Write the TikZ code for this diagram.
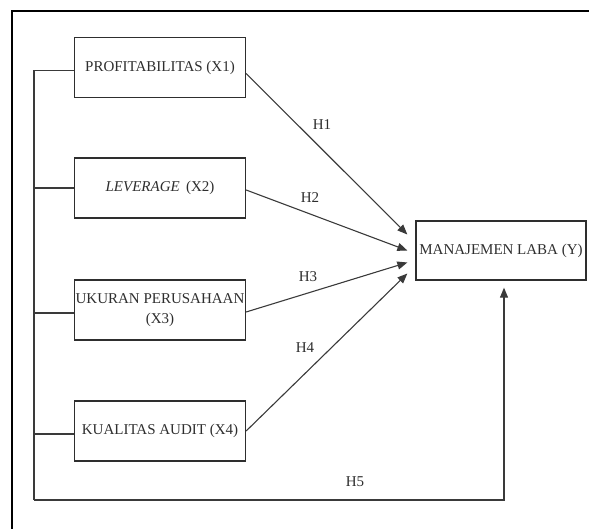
\documentclass[tikz,border=0pt]{standalone}
\usepackage{fontspec}
\setmainfont{Liberation Serif}
\usetikzlibrary{
   arrows.meta,
   calc
}
\definecolor{inkgray}{HTML}{2E2E2E}
\definecolor{linegray}{HTML}{3A3A3A}

\begin{document}
\begin{tikzpicture}[
  x=1pt, y=-1pt,
  every node/.style={font=\fontsize{15}{20}\selectfont, text=inkgray},
  varbox/.style={draw=inkgray, line width=1.3pt, minimum width=171pt,
    minimum height=60pt, inner sep=0pt, align=center},
  link/.style={draw=linegray, line width=1.1pt},
  effect/.style={link, -{Triangle[length=10pt,width=8pt]}},
]
\useasboundingbox (0,0) rectangle (589,529);

% page frame
\draw[line width=1.3pt] (589,11) -- (12,11) -- (12,529);

% variables
\node[varbox] (x1) at (160,67.5) {PROFITABILITAS (X1)};
\node[varbox] (x2) at (160,188) {\textit{LEVERAGE} \,(X2)};
\node[varbox] (x3) at (160,310) {UKURAN PERUSAHAAN\\(X3)};
\node[varbox] (x4) at (160,431) {KUALITAS AUDIT (X4)};
\node[varbox, minimum width=170pt, minimum height=59pt] (y) at (501,250.5) {MANAJEMEN LABA (Y)};

% arrow ends in front of y
\coordinate (t1) at ([xshift=-8pt,yshift=16pt]y.west);
\coordinate (t2) at ([xshift=-8pt,yshift=0pt]y.west);
\coordinate (t3) at ([xshift=-8pt,yshift=-12pt]y.west);
\coordinate (t4) at ([xshift=-8pt,yshift=-23pt]y.west);

% partial effects
\draw[effect] ([yshift=-6pt]x1.east) -- (t1);
\draw[effect] ([yshift=-2pt]x2.east) -- (t2);
\draw[effect] ([yshift=-2pt]x3.east) -- (t3);
\draw[effect] (x4.east) -- (t4);

\node (h1) at (322,125) {H1};
\node (h2) at (310,198) {H2};
\node (h3) at (308,277) {H3};
\node (h4) at (305,348) {H4};

% simultaneous effect
\coordinate (corner) at (34,500);
\draw[link] ([yshift=-3pt]x1.west) -| (corner);
\draw[link] (x2.west) -- (x2.west -| corner);
\draw[link] ([yshift=-3pt]x3.west) -- ([yshift=-3pt]x3.west -| corner);
\draw[link] ([yshift=-3pt]x4.west) -- ([yshift=-3pt]x4.west -| corner);
\draw[effect, shorten >=7pt] (corner) -| ([xshift=3pt]y.south);
\node (h5) at (355,482) {H5};

\end{tikzpicture}
\end{document}
